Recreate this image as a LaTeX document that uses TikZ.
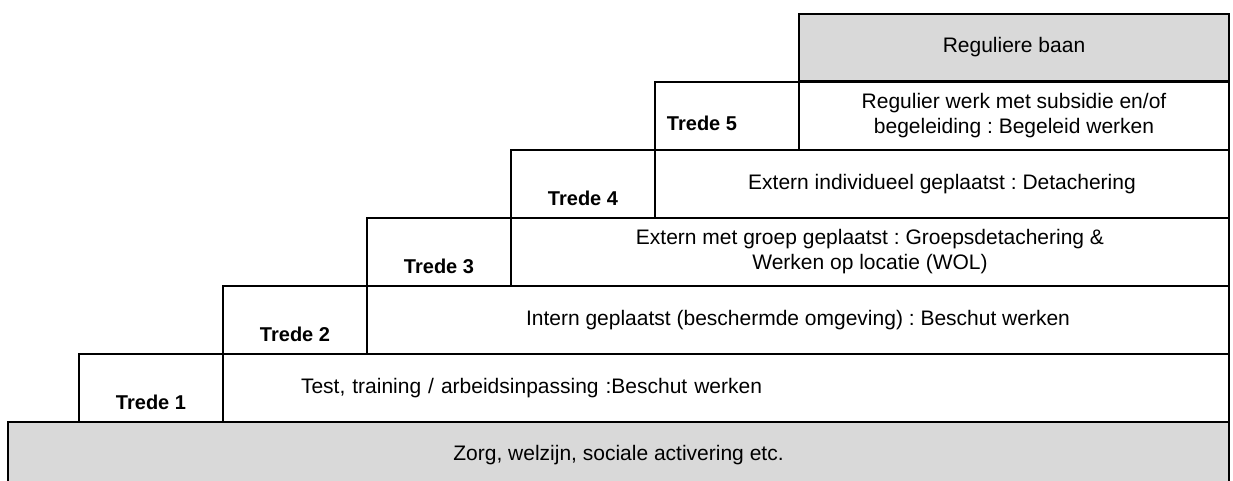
\documentclass[tikz,border=0pt]{standalone}
\usepackage{fontspec}
\setmainfont{Liberation Sans}
\usetikzlibrary{calc}
\definecolor{stepgrey}{RGB}{217,217,217}
\frenchspacing

\begin{document}
\begin{tikzpicture}
    [
      x=1pt, y=-1pt,
      box/.style={draw, line width=2pt, rectangle, anchor=north west,
        inner sep=0pt, minimum height=68pt, align=center,
        font=\fontsize{21}{25}\selectfont},
      trede/.style={anchor=base, font=\fontsize{20}{24}\selectfont\bfseries}
    ]
    \useasboundingbox (0,0) rectangle (1233,480);
    % bottom bar
    \node [box, fill=stepgrey, minimum width=1221pt, minimum height=66pt]
      (zorg) at (7,421) {Zorg, welzijn, sociale activering etc.};
    % trede boxes
    \foreach \i/\xl/\yt in {1/78/353,2/222/285,3/366/217,4/510/149,5/654/81} {
        \node [box, minimum width=144pt] (t\i) at (\xl,\yt) {};
    }
    % trede labels
    \foreach \i in {1,...,4} {
        \node [trede] (l\i) at ($(t\i.south)+(0,-14)$) {Trede \i};
    }
    \node [trede] (l5) at ($(t5.south)+(-25,-21)$) {Trede 5};
    % step texts
    \node [box, minimum width=1006pt, text width=850pt, align=left]
      (s1) at (222,353) {Test, training / arbeidsinpassing :Beschut werken};
    \node [box, minimum width=862pt]
      (s2) at (366,285) {Intern geplaatst (beschermde omgeving) : Beschut werken};
    \node [box, minimum width=718pt]
      (s3) at (510,217) {Extern met groep geplaatst : Groepsdetachering \&\\Werken op locatie (WOL)};
    \node [box, minimum width=574pt]
      (s4) at (654,149) {Extern individueel geplaatst : Detachering};
    \node [box, minimum width=430pt]
      (s5) at (798,81) {Regulier werk met subsidie en/of\\begeleiding : Begeleid werken};
    % top
    \node [box, fill=stepgrey, minimum width=430pt, minimum height=67pt]
      (baan) at (798,13) {Reguliere baan};
\end{tikzpicture}
\end{document}
